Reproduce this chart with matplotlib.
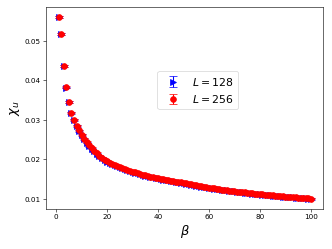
import matplotlib
matplotlib.use("Agg")
import matplotlib.pyplot as plt
import numpy as np

# inverse temperature grid
beta = list(range(1, 101))

# chi_u for L = 128 (blue, right triangles)
chi_128 = [
    0.0559, 0.0516, 0.0435, 0.0381, 0.0344, 0.0317, 0.0299, 0.0284, 0.0272, 0.0261,
    0.0251, 0.0242, 0.0234, 0.0227, 0.0220, 0.0214, 0.0208, 0.0203, 0.0198, 0.0194,
    0.01910, 0.01878, 0.01848, 0.01820, 0.01794, 0.01768, 0.01744, 0.01722, 0.01700, 0.01679,
    0.01659, 0.01640, 0.01622, 0.01605, 0.01588, 0.01572, 0.01557, 0.01542, 0.01527, 0.01513,
    0.01500, 0.01487, 0.01474, 0.01462, 0.01450, 0.01439, 0.01428, 0.01417, 0.01406, 0.01396,
    0.01383, 0.01370, 0.01357, 0.01344, 0.01331, 0.01320, 0.01309, 0.01298, 0.01288, 0.01277,
    0.01267, 0.01257, 0.01247, 0.01238, 0.01228, 0.01219, 0.01211, 0.01202, 0.01194, 0.01185,
    0.01177, 0.01169, 0.01162, 0.01154, 0.01146, 0.01139, 0.01132, 0.01125, 0.01118, 0.01111,
    0.01105, 0.01098, 0.01092, 0.01085, 0.01079, 0.01073, 0.01067, 0.01061, 0.01056, 0.01050,
    0.01045, 0.01039, 0.01034, 0.01028, 0.01023, 0.01018, 0.01013, 0.01008, 0.01003, 0.00998,
]

# chi_u for L = 256 (red, circles)
chi_256 = [
    0.0560, 0.0517, 0.0436, 0.0382, 0.0345, 0.0318, 0.0300, 0.0285, 0.0273, 0.0262,
    0.0252, 0.0243, 0.0235, 0.0228, 0.0221, 0.0215, 0.0209, 0.0204, 0.0199, 0.0195,
    0.01916, 0.01884, 0.01854, 0.01826, 0.01800, 0.01774, 0.01750, 0.01728, 0.01706, 0.01685,
    0.01665, 0.01646, 0.01628, 0.01611, 0.01594, 0.01578, 0.01563, 0.01548, 0.01533, 0.01519,
    0.01506, 0.01493, 0.01480, 0.01468, 0.01456, 0.01445, 0.01434, 0.01423, 0.01412, 0.01402,
    0.01389, 0.01376, 0.01363, 0.01350, 0.01337, 0.01326, 0.01315, 0.01304, 0.01294, 0.01283,
    0.01273, 0.01263, 0.01253, 0.01244, 0.01234, 0.01225, 0.01217, 0.01208, 0.01200, 0.01191,
    0.01183, 0.01175, 0.01168, 0.01160, 0.01152, 0.01145, 0.01138, 0.01131, 0.01124, 0.01117,
    0.01111, 0.01104, 0.01098, 0.01091, 0.01085, 0.01079, 0.01073, 0.01067, 0.01062, 0.01056,
    0.01051, 0.01045, 0.01040, 0.01034, 0.01029, 0.01024, 0.01019, 0.01014, 0.01009, 0.01004,
]

err_128 = 0.0002
err_256 = 0.0002

fig = plt.figure(figsize=(6.4, 4.8), dpi=52)
ax = fig.add_axes([0.1386, 0.161, 0.8334, 0.809])

ax.errorbar(beta, chi_128, yerr=err_128, fmt=">", color="blue",
            markersize=7, capsize=5, label=r"$L=128$")
ax.errorbar(beta, chi_256, yerr=err_256, fmt="o", color="red",
            markersize=8, capsize=6, label=r"$L=256$")

ax.set_xlabel(r"$\beta$", fontsize=18)
ax.set_ylabel(r"$\chi_u$", fontsize=18)
ax.legend(loc="center", bbox_to_anchor=(0.546, 0.588), fontsize=15)

fig.savefig("out.png", dpi=52)
